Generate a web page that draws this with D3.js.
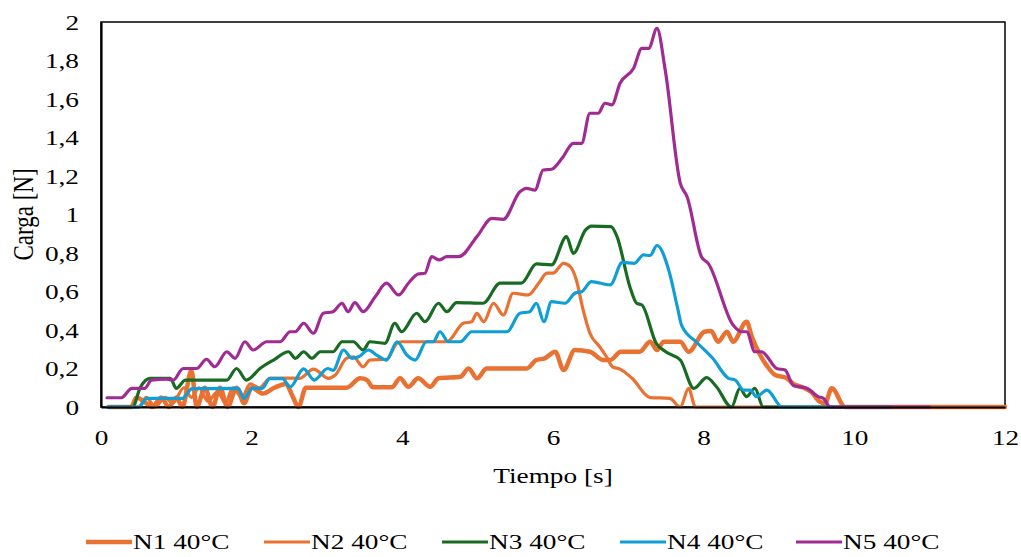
<!DOCTYPE html>
<html>
<head>
<meta charset="utf-8">
<script src="https://cdn.jsdelivr.net/npm/d3@7"></script>
<style>
    html, body { margin: 0; padding: 0; background: #fff; }
    svg text { font-family: "Liberation Serif", "Times New Roman", serif; fill: #000; }
</style>
</head>
<body>
<div id="chart"></div>
<script>
"use strict";

// tick values
const xTicks = [0, 2, 4, 6, 8, 10, 12];
const yTicks = [0, 0.2, 0.4, 0.6, 0.8, 1, 1.2, 1.4, 1.6, 1.8, 2];

const seriesNames = ["N1 40°C", "N2 40°C", "N3 40°C", "N4 40°C", "N5 40°C"];

// [tiempo s, carga N]
const n1 = [[0.1,0],[0.4,0],[0.47,0.05],[0.6,0.02],[0.68,0],[0.8,0.05],[0.9,0],[1.0,0.05],[1.08,0],[1.2,0.19],[1.27,0],[1.38,0.1],[1.48,0],[1.58,0.1],[1.68,0],[1.8,0.1],[1.9,0.02],[2.0,0.1],[2.15,0.07],[2.3,0.1],[2.45,0.12],[2.55,0.05],[2.62,0],[2.72,0.1],[2.91,0.1],
    [3.26,0.1],[3.44,0.149],[3.53,0.14],[3.61,0.102],[3.86,0.102],[3.97,0.149],[4.08,0.105],[4.21,0.149],[4.37,0.105],[4.48,0.149],[4.77,0.157],[4.88,0.2],[4.99,0.149],[5.12,0.2],[5.65,0.2],
    [5.78,0.244],[5.89,0.253],[6.03,0.287],[6.14,0.192],[6.29,0.296],[6.49,0.287],[6.67,0.244],[6.76,0.244],[6.9,0.287],[7.15,0.287],[7.29,0.339],[7.38,0.296],[7.47,0.339],[7.69,0.339],[7.8,0.287],
    [8.01,0.391],[8.1,0.395],[8.19,0.339],[8.31,0.391],[8.39,0.339],[8.57,0.443],[8.64,0.365],[8.75,0.27],[8.85,0.208],[8.95,0.166],[9.1,0.151],[9.19,0.12],[9.32,0.101],[9.43,0.078],[9.54,0.028],[9.61,0.019],[9.7,0.097],[9.88,0],[12,0]];

const n2 = [[0.1,0],[0.5,0],[0.6,0.05],[0.72,0],[0.85,0.05],[0.95,0.02],[1.1,0.1],[1.2,0.05],[1.3,0.1],[1.42,0.03],[1.55,0.08],[1.65,0.02],[1.75,0.1],[1.87,0.05],[1.98,0.12],[2.1,0.1],[2.25,0.15],[2.45,0.15],[2.64,0.149],[2.82,0.197],
    [3.02,0.149],[3.11,0.166],[3.26,0.253],[3.35,0.261],[3.48,0.209],[3.57,0.244],[3.79,0.248],[3.93,0.331],[3.99,0.339],[4.59,0.339],[4.81,0.435],[4.92,0.443],[4.99,0.487],[5.08,0.443],[5.21,0.539],[5.34,0.478],[5.47,0.591],[5.67,0.582],[5.81,0.643],[5.92,0.695],[6.0,0.695],
    [6.14,0.746],[6.23,0.729],[6.31,0.66],[6.4,0.504],[6.49,0.383],[6.62,0.313],[6.71,0.261],[6.79,0.209],[6.89,0.197],[7.05,0.149],[7.29,0.049],[7.55,0.045],[7.69,0],[7.8,0.097],[7.89,0],[12,0]];

const n3 = [[0.1,0],[0.42,0],[0.52,0.1],[0.65,0.149],[0.92,0.149],[1.0,0.097],[1.12,0.14],[1.67,0.14],[1.8,0.2],[1.93,0.14],[2.11,0.2],[2.29,0.244],[2.49,0.287],[2.58,0.253],[2.69,0.287],[2.8,0.253],[2.91,0.287],[3.08,0.287],
    [3.2,0.339],[3.35,0.339],[3.48,0.296],[3.57,0.339],[3.77,0.331],[3.9,0.435],[3.99,0.391],[4.19,0.487],[4.3,0.443],[4.48,0.539],[4.59,0.495],[4.72,0.542],[5.07,0.539],[5.3,0.643],[5.58,0.643],[5.78,0.743],[5.98,0.738],
    [6.18,0.885],[6.27,0.798],[6.43,0.919],[6.51,0.94],[6.77,0.937],[6.85,0.885],[7.02,0.625],[7.11,0.539],[7.18,0.53],[7.37,0.331],[7.5,0.286],[7.69,0.244],[7.87,0.097],[8.04,0.153],[8.17,0.105],[8.37,0],[8.48,0.097],[8.57,0.054],[8.68,0.097],[8.79,0],[10.5,0]];

const n4 = [[0.08,0],[0.5,0],[0.61,0.045],[1.08,0.045],[1.21,0.095],[1.82,0.097],[1.9,0.045],[2.01,0.097],[2.14,0.097],[2.24,0.147],[2.41,0.147],[2.51,0.104],[2.69,0.198],[2.83,0.14],[3.01,0.2],[3.08,0.19],
    [3.22,0.296],[3.33,0.253],[3.42,0.261],[3.55,0.296],[3.66,0.27],[3.79,0.244],[3.93,0.339],[4.06,0.27],[4.17,0.244],[4.32,0.339],[4.41,0.339],[4.5,0.391],[4.61,0.339],[4.77,0.339],[4.92,0.391],[5.39,0.391],
    [5.56,0.487],[5.69,0.495],[5.78,0.539],[5.88,0.443],[5.98,0.547],[6.16,0.539],[6.29,0.591],[6.38,0.599],[6.51,0.651],[6.76,0.634],[6.92,0.751],[7.08,0.746],[7.2,0.79],[7.29,0.787],[7.38,0.839],
    [7.54,0.706],[7.65,0.521],[7.71,0.421],[7.91,0.335],[8.12,0.253],[8.33,0.149],[8.42,0.14],[8.53,0.088],[8.62,0.088],[8.7,0.054],[8.84,0.088],[9.04,0],[10.5,0]];

const n5 = [[0.08,0.048],[0.27,0.048],[0.41,0.097],[0.58,0.097],[0.67,0.14],[0.87,0.145],[0.96,0.14],[1.09,0.2],[1.27,0.2],[1.4,0.248],[1.51,0.209],[1.67,0.287],[1.78,0.253],[1.91,0.339],[2.02,0.296],[2.2,0.339],[2.38,0.339],
    [2.51,0.391],[2.58,0.391],[2.69,0.435],[2.82,0.383],[2.95,0.487],[3.08,0.495],[3.2,0.539],[3.28,0.495],[3.37,0.542],[3.48,0.495],[3.64,0.573],[3.79,0.643],[3.95,0.582],[4.08,0.643],[4.21,0.691],[4.3,0.695],
    [4.39,0.781],[4.49,0.764],[4.59,0.781],[4.75,0.781],[4.99,0.885],[5.19,0.98],[5.34,0.975],[5.56,1.118],[5.65,1.136],[5.76,1.127],[5.87,1.231],[5.98,1.235],[6.12,1.292],[6.27,1.37],[6.38,1.37],
    [6.49,1.526],[6.6,1.526],[6.69,1.578],[6.78,1.569],[6.89,1.682],[7.07,1.76],[7.18,1.863],[7.27,1.863],[7.38,1.967],[7.49,1.75],[7.69,1.162],[7.78,1.092],[7.97,0.781],[8.06,0.746],
    [8.39,0.426],[8.5,0.391],[8.57,0.391],[8.68,0.287],[8.77,0.287],[8.97,0.2],[9.08,0.192],[9.19,0.112],[9.37,0.097],[9.52,0.054],[9.59,0.045],[9.68,0],[11.0,0]];

const seriesData = [n1, n2, n3, n4, n5];
const colors = ["#E97132", "#E97132", "#196B24", "#0F9ED5", "#A02B93"];
const widths = [4.5, 3.2, 3.2, 3.2, 3.2];

(function () {
    const W = 1021, H = 557;
    const stretch = 1.24;
    const fontSize = 22;

    const svg = d3.select("#chart").append("svg")
        .attr("width", W)
        .attr("height", H);

    const x = d3.scaleLinear().domain([0, 12]).range([101, 1005]);
    const y = d3.scaleLinear().domain([0, 2]).range([407, 22]);

    const esLocale = d3.formatLocale({ decimal: ",", thousands: ".", grouping: [3], currency: ["", "€"] });
    const fmt = esLocale.format(".1~f");

    // plot frame
    svg.append("rect")
        .attr("x", x(0)).attr("y", y(2))
        .attr("width", x(12) - x(0)).attr("height", y(0) - y(2))
        .attr("fill", "none").attr("stroke", "#000").attr("stroke-width", 1.5);

    // series
    const line = d3.line()
        .x(d => x(d[0]))
        .y(d => y(d[1]))
        .curve(d3.curveMonotoneX);

    seriesData.forEach((s, i) => {
        svg.append("path")
            .datum(s)
            .attr("d", line)
            .attr("fill", "none")
            .attr("stroke", colors[i])
            .attr("stroke-width", widths[i])
            .attr("stroke-linejoin", "round")
            .attr("stroke-linecap", "round");
    });

    // axes
    const yAxis = svg.append("g")
        .attr("transform", `translate(${x(0)},0)`)
        .call(d3.axisLeft(y).tickValues(yTicks).tickSize(0).tickPadding(22).tickFormat(fmt));
    const xAxis = svg.append("g")
        .attr("transform", `translate(0,${y(0)})`)
        .call(d3.axisBottom(x).tickValues(xTicks).tickSize(0).tickPadding(22).tickFormat(fmt));

    [xAxis, yAxis].forEach(g => {
        g.select(".domain").attr("stroke", "#000").attr("stroke-width", 2.2);
        g.selectAll("text")
            .attr("font-family", "Liberation Serif")
            .attr("font-size", fontSize)
            .attr("fill", "#000");
    });
    yAxis.selectAll("text")
        .style("transform-box", "fill-box")
        .style("transform-origin", "right center")
        .style("transform", `scaleX(${stretch})`);
    xAxis.selectAll("text")
        .style("transform-box", "fill-box")
        .style("transform-origin", "center")
        .style("transform", `scaleX(${stretch})`);

    // axis titles
    svg.append("text")
        .attr("transform", `translate(${(x(0) + x(12)) / 2},483) scale(${stretch},1)`)
        .attr("text-anchor", "middle")
        .attr("font-size", fontSize)
        .text("Tiempo [s]");

    svg.append("text")
        .attr("transform", `translate(33,${(y(0) + y(2)) / 2}) scale(${stretch},1) rotate(-90)`)
        .attr("text-anchor", "middle")
        .attr("font-size", fontSize + 1)
        .text("Carga [N]");

    // legend
    const legendX = [86, 264, 442, 620, 796];
    const legend = svg.append("g");
    seriesNames.forEach((name, i) => {
        const g = legend.append("g").attr("transform", `translate(${legendX[i]},541)`);
        g.append("line")
            .attr("x1", 0).attr("x2", 46)
            .attr("y1", 1).attr("y2", 1)
            .attr("stroke", colors[i])
            .attr("stroke-width", widths[i]);
        g.append("text")
            .attr("transform", `translate(47,7.5) scale(${stretch},1)`)
            .attr("font-size", fontSize)
            .text(name);
    });
})();
</script>
</body>
</html>
